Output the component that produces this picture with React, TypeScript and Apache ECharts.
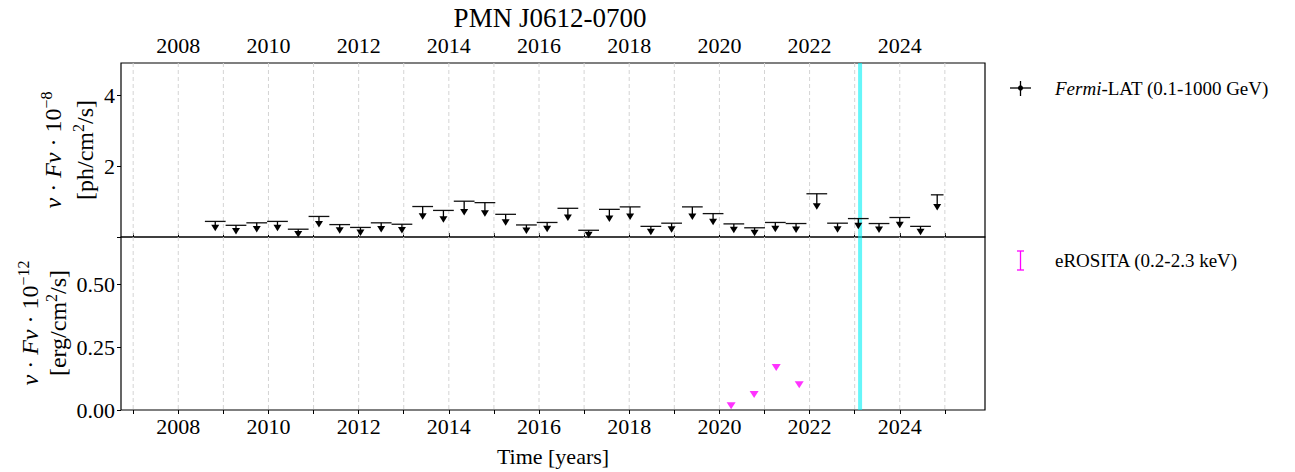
import React, { useEffect, useRef } from "react";
import * as echarts from "echarts";

// ---------- data ----------
const fermiTimes = [
  2008.82, 2009.28, 2009.74, 2010.2, 2010.66, 2011.12, 2011.58, 2012.04, 2012.5, 2012.96,
  2013.42, 2013.88, 2014.34, 2014.8, 2015.26, 2015.72, 2016.18, 2016.64, 2017.1, 2017.56,
  2018.02, 2018.48, 2018.94, 2019.4, 2019.86, 2020.32, 2020.78, 2021.24, 2021.7, 2022.16,
  2022.62, 2023.08, 2023.54, 2024.0, 2024.46, 2024.83,
];
const fermiUpperLimits = [
  0.44, 0.33, 0.4, 0.44, 0.22, 0.58, 0.35, 0.27, 0.4, 0.36,
  0.86, 0.75, 1.01, 0.97, 0.64, 0.34, 0.41, 0.81, 0.19, 0.78,
  0.85, 0.3, 0.39, 0.85, 0.66, 0.37, 0.26, 0.41, 0.38, 1.22,
  0.39, 0.52, 0.38, 0.55, 0.3, 1.19,
];
const fermiHalfBin = [
  0.23, 0.23, 0.23, 0.23, 0.23, 0.23, 0.23, 0.23, 0.23, 0.23,
  0.23, 0.23, 0.23, 0.23, 0.23, 0.23, 0.23, 0.23, 0.23, 0.23,
  0.23, 0.23, 0.23, 0.23, 0.23, 0.23, 0.23, 0.23, 0.23, 0.23,
  0.23, 0.23, 0.23, 0.23, 0.23, 0.14,
];
const erositaTimes = [2020.26, 2020.77, 2021.26, 2021.77];
const erositaUpperLimits = [0.017, 0.062, 0.169, 0.1];
const markerEpoch = [2023.12];

const tickYears = [
  2007, 2008, 2009, 2010, 2011, 2012, 2013, 2014, 2015, 2016,
  2017, 2018, 2019, 2020, 2021, 2022, 2023, 2024, 2025,
];
const labelYears = [2008, 2010, 2012, 2014, 2016, 2018, 2020, 2022, 2024];
const topTicks = [0, 2, 4];
const topTickLabels = [2, 4];
const bottomTicks = [0, 0.25, 0.5];

const X_MIN = 2006.73;
const X_MAX = 2025.89;
const TOP_MAX = 4.91;
const BOT_MAX = 0.687;

const FONT = "'Liberation Serif', 'DejaVu Serif', serif";

function gridLineSeries(gridIdx: number) {
  return {
    type: "custom",
    xAxisIndex: gridIdx,
    yAxisIndex: gridIdx,
    z: 1,
    silent: true,
    data: tickYears.map((y) => [y, 0]),
    encode: { x: 0, y: 1 },
    renderItem: (params: any, api: any) => {
      const cs = params.coordSys;
      const p = api.coord([api.value(0), 0]);
      return {
        type: "line",
        shape: { x1: p[0], y1: cs.y, x2: p[0], y2: cs.y + cs.height },
        style: { stroke: "#d4d4d4", lineWidth: 1, lineDash: [4, 3] },
      };
    },
  };
}

function epochSeries(gridIdx: number) {
  return {
    type: "custom",
    xAxisIndex: gridIdx,
    yAxisIndex: gridIdx,
    z: 2,
    silent: true,
    data: markerEpoch.map((y) => [y, 0]),
    encode: { x: 0, y: 1 },
    renderItem: (params: any, api: any) => {
      const cs = params.coordSys;
      const p = api.coord([api.value(0), 0]);
      return {
        type: "line",
        shape: { x1: p[0], y1: cs.y, x2: p[0], y2: cs.y + cs.height },
        style: { stroke: "rgba(0,240,245,0.6)", lineWidth: 4 },
      };
    },
  };
}

export default function App() {
  const ref = useRef<HTMLDivElement>(null);

  useEffect(() => {
    if (!ref.current) return;
    const chart = echarts.init(ref.current, undefined, { renderer: "svg" });

    const fermiData = fermiTimes.map((t, i) => [t, fermiUpperLimits[i], fermiHalfBin[i]]);
    const eroData = erositaTimes.map((t, i) => [t, erositaUpperLimits[i]]);

    const axisTickStyle = { show: true, inside: false, length: 4, lineStyle: { color: "#000", width: 1 } };
    const labelStyle = { color: "#000", fontSize: 22, fontFamily: FONT };

    const sup = { fontFamily: FONT, fontSize: 16, verticalAlign: "top", lineHeight: 12, color: "#000" };
    const reg = { fontFamily: FONT, fontSize: 24, lineHeight: 30, color: "#000" };
    const ita = { fontFamily: FONT, fontSize: 24, lineHeight: 30, fontStyle: "italic", color: "#000" };
    const richY = { r: reg, i: ita, s: sup };

    const option: any = {
      animation: false,
      backgroundColor: "#fff",
      grid: [
        { left: 121, top: 63, width: 864, height: 174, show: true, borderColor: "#000", borderWidth: 1.2, backgroundColor: "transparent" },
        { left: 121, top: 237, width: 864, height: 173, show: true, borderColor: "#000", borderWidth: 1.2, backgroundColor: "transparent" },
      ],
      xAxis: [
        {
          gridIndex: 0,
          type: "value",
          min: X_MIN,
          max: X_MAX,
          position: "top",
          axisLine: { show: false },
          axisTick: { ...axisTickStyle, customValues: tickYears },
          axisLabel: { ...labelStyle, customValues: labelYears, margin: 7, formatter: (v: number) => String(v) },
          splitLine: { show: false },
        },
        {
          gridIndex: 1,
          type: "value",
          min: X_MIN,
          max: X_MAX,
          position: "bottom",
          axisLine: { show: false },
          axisTick: { ...axisTickStyle, customValues: tickYears },
          axisLabel: { ...labelStyle, customValues: labelYears, margin: 5, formatter: (v: number) => String(v) },
          splitLine: { show: false },
          name: "Time [years]",
          nameLocation: "middle",
          nameGap: 35,
          nameTextStyle: { ...labelStyle },
        },
      ],
      yAxis: [
        {
          gridIndex: 0,
          type: "value",
          min: 0,
          max: TOP_MAX,
          axisLine: { show: false },
          axisTick: { ...axisTickStyle, customValues: topTicks },
          axisLabel: { ...labelStyle, customValues: topTickLabels, margin: 6, formatter: (v: number) => String(v) },
          splitLine: { show: false },
        },
        {
          gridIndex: 1,
          type: "value",
          min: 0,
          max: BOT_MAX,
          axisLine: { show: false },
          axisTick: { ...axisTickStyle, customValues: bottomTicks },
          axisLabel: { ...labelStyle, customValues: bottomTicks, margin: 6, formatter: (v: number) => v.toFixed(2) },
          splitLine: { show: false },
        },
      ],
      series: [
        gridLineSeries(0),
        gridLineSeries(1),
        epochSeries(0),
        epochSeries(1),
        {
          type: "custom",
          name: "Fermi",
          xAxisIndex: 0,
          yAxisIndex: 0,
          z: 5,
          data: fermiData,
          encode: { x: 0, y: 1 },
          renderItem: (params: any, api: any) => {
            const x = api.value(0);
            const ul = api.value(1);
            const hw = api.value(2);
            const pL = api.coord([x - hw, ul]);
            const pR = api.coord([x + hw, ul]);
            const pC = api.coord([x, ul]);
            const tip = api.coord([x, ul * 0.78]);
            return {
              type: "group",
              children: [
                { type: "line", shape: { x1: pL[0], y1: pL[1], x2: pR[0], y2: pR[1] }, style: { stroke: "#111", lineWidth: 1.3 } },
                { type: "line", shape: { x1: pC[0], y1: pC[1], x2: tip[0], y2: tip[1] + 1 }, style: { stroke: "#000", lineWidth: 1.3 } },
                {
                  type: "polygon",
                  shape: { points: [[tip[0] - 4, tip[1]], [tip[0] + 4, tip[1]], [tip[0], tip[1] + 6.5]] },
                  style: { fill: "#000" },
                },
              ],
            };
          },
        },
        {
          type: "scatter",
          name: "eROSITA",
          xAxisIndex: 1,
          yAxisIndex: 1,
          z: 5,
          data: eroData,
          symbol: "triangle",
          symbolRotate: 180,
          symbolSize: [9, 7],
          itemStyle: { color: "#ff00ff" },
        },
      ],
      graphic: [
        {
          type: "text",
          x: 550,
          y: 18,
          style: { text: "PMN J0612-0700", font: `27px ${FONT}`, fill: "#000", textAlign: "center", textVerticalAlign: "middle" },
        },
        {
          type: "text",
          x: 53,
          y: 150,
          rotation: Math.PI / 2,
          style: {
            text: "{i|ν}{r| · }{i|Fν}{r| · 10}{s|−8}",
            rich: richY,
            textAlign: "center",
            textVerticalAlign: "middle",
          },
        },
        {
          type: "text",
          x: 85,
          y: 150,
          rotation: Math.PI / 2,
          style: {
            text: "{r|[ph/cm}{s|2}{r|/s]}",
            rich: richY,
            textAlign: "center",
            textVerticalAlign: "middle",
          },
        },
        {
          type: "text",
          x: 30,
          y: 323,
          rotation: Math.PI / 2,
          style: {
            text: "{i|ν}{r| · }{i|Fν}{r| · 10}{s|−12}",
            rich: richY,
            textAlign: "center",
            textVerticalAlign: "middle",
          },
        },
        {
          type: "text",
          x: 58,
          y: 323,
          rotation: Math.PI / 2,
          style: {
            text: "{r|[erg/cm}{s|2}{r|/s]}",
            rich: richY,
            textAlign: "center",
            textVerticalAlign: "middle",
          },
        },
        // legend: Fermi
        { type: "line", shape: { x1: 1010, y1: 88, x2: 1031, y2: 88 }, style: { stroke: "#000", lineWidth: 1.3 } },
        { type: "line", shape: { x1: 1020.5, y1: 81, x2: 1020.5, y2: 96 }, style: { stroke: "#000", lineWidth: 1.3 } },
        { type: "circle", shape: { cx: 1020.5, cy: 88, r: 2.6 }, style: { fill: "#000" } },
        {
          type: "text",
          x: 1055,
          y: 88,
          style: {
            text: "{i|Fermi}{r|-LAT (0.1-1000 GeV)}",
            rich: {
              i: { fontFamily: FONT, fontSize: 19, fontStyle: "italic", color: "#000" },
              r: { fontFamily: FONT, fontSize: 19, color: "#000" },
            },
            textAlign: "left",
            textVerticalAlign: "middle",
          },
        },
        // legend: eROSITA
        { type: "line", shape: { x1: 1020.5, y1: 251, x2: 1020.5, y2: 270 }, style: { stroke: "#ff00ff", lineWidth: 1.3 } },
        { type: "line", shape: { x1: 1017, y1: 251, x2: 1024, y2: 251 }, style: { stroke: "#ff00ff", lineWidth: 1.3 } },
        { type: "line", shape: { x1: 1017, y1: 270, x2: 1024, y2: 270 }, style: { stroke: "#ff00ff", lineWidth: 1.3 } },
        {
          type: "text",
          x: 1055,
          y: 260,
          style: { text: "eROSITA (0.2-2.3 keV)", font: `19px ${FONT}`, fill: "#000", textAlign: "left", textVerticalAlign: "middle" },
        },
      ],
    };

    chart.setOption(option);
    return () => chart.dispose();
  }, []);

  return (
    <div
      ref={ref}
      style={{ position: "fixed", left: 0, top: 0, width: 1295, height: 472, background: "#fff" }}
    />
  );
}
